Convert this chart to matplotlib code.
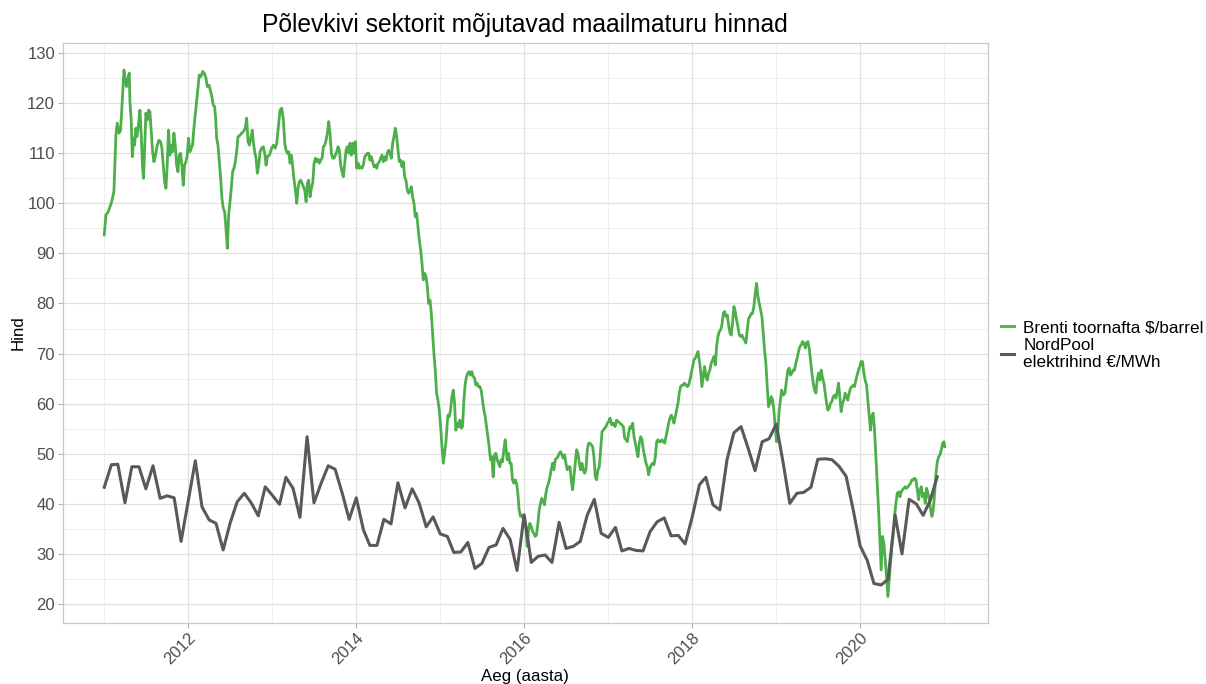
import datetime as dt
import numpy as np
import pandas as pd
import matplotlib
matplotlib.use("Agg")
import matplotlib.pyplot as plt
import matplotlib.dates as mdates
from matplotlib.ticker import FixedLocator

plt.rcParams['font.family'] = ['Liberation Sans', 'DejaVu Sans']

# ---------------- data ----------------
title = "Põlevkivi sektorit mõjutavad maailmaturu hinnad"
x_label = "Aeg (aasta)"
y_label = "Hind"
series_names = ["Brenti toornafta $/barrel", "NordPool\nelektrihind €/MWh"]

# Brent crude oil price, sampled time (decimal year) and value
brent_year = [
    2011.000, 2011.020, 2011.048, 2011.088, 2011.115, 2011.139, 2011.155, 2011.175, 2011.195, 2011.235,
    2011.251, 2011.266, 2011.282, 2011.298, 2011.306, 2011.322, 2011.334, 2011.350, 2011.361, 2011.377,
    2011.389, 2011.405, 2011.425, 2011.441, 2011.456, 2011.468, 2011.480, 2011.496, 2011.512, 2011.528,
    2011.544, 2011.560, 2011.576, 2011.592, 2011.611, 2011.631, 2011.651, 2011.671, 2011.687, 2011.703,
    2011.719, 2011.735, 2011.750, 2011.766, 2011.782, 2011.798, 2011.814, 2011.830, 2011.846, 2011.862,
    2011.878, 2011.893, 2011.909, 2011.925, 2011.941, 2011.957, 2011.973, 2011.989, 2012.004, 2012.020,
    2012.036, 2012.052, 2012.068, 2012.084, 2012.100, 2012.116, 2012.131, 2012.151, 2012.171, 2012.191,
    2012.211, 2012.227, 2012.247, 2012.262, 2012.278, 2012.298, 2012.314, 2012.326, 2012.338, 2012.354,
    2012.370, 2012.386, 2012.401, 2012.417, 2012.433, 2012.449, 2012.465, 2012.481, 2012.497, 2012.512,
    2012.528, 2012.544, 2012.560, 2012.576, 2012.592, 2012.616, 2012.635, 2012.655, 2012.679, 2012.695,
    2012.711, 2012.727, 2012.743, 2012.762, 2012.774, 2012.790, 2012.806, 2012.822, 2012.838, 2012.854,
    2012.873, 2012.893, 2012.913, 2012.925, 2012.941, 2012.965, 2012.992, 2013.012,
    2013.033, 2013.052, 2013.072, 2013.092, 2013.112, 2013.132, 2013.148, 2013.163, 2013.179, 2013.195,
    2013.211, 2013.227, 2013.243, 2013.259, 2013.275, 2013.290, 2013.306, 2013.322, 2013.338, 2013.354,
    2013.370, 2013.386, 2013.402, 2013.417, 2013.433, 2013.449, 2013.465, 2013.481, 2013.497, 2013.513,
    2013.529, 2013.544, 2013.560, 2013.576, 2013.592, 2013.608, 2013.624, 2013.640, 2013.656, 2013.671,
    2013.687, 2013.703, 2013.719, 2013.735, 2013.751, 2013.767, 2013.783, 2013.798, 2013.814, 2013.830,
    2013.846, 2013.862, 2013.878, 2013.894, 2013.910, 2013.925, 2013.941, 2013.957, 2013.973, 2013.989,
    2014.005, 2014.021, 2014.037, 2014.052, 2014.068, 2014.084, 2014.100, 2014.116, 2014.132, 2014.148,
    2014.163, 2014.179, 2014.195, 2014.211, 2014.227, 2014.243, 2014.259, 2014.275, 2014.290, 2014.306,
    2014.322, 2014.338, 2014.354, 2014.370, 2014.386, 2014.402, 2014.417, 2014.433, 2014.449, 2014.465,
    2014.481, 2014.497, 2014.513, 2014.529, 2014.544, 2014.560, 2014.576, 2014.592, 2014.608, 2014.624,
    2014.640, 2014.656, 2014.671, 2014.687, 2014.703, 2014.719, 2014.735, 2014.751, 2014.767, 2014.783,
    2014.798, 2014.814, 2014.830, 2014.846, 2014.862, 2014.878, 2014.894, 2014.910, 2014.925, 2014.941,
    2014.957, 2014.973, 2014.989, 2015.005, 2015.021, 2015.037,
    2015.067, 2015.091, 2015.107, 2015.123, 2015.139, 2015.155, 2015.171, 2015.186, 2015.202, 2015.218,
    2015.234, 2015.250, 2015.266, 2015.282, 2015.298, 2015.313, 2015.329, 2015.345, 2015.361, 2015.377,
    2015.393, 2015.409, 2015.425, 2015.440, 2015.456, 2015.472, 2015.488, 2015.504, 2015.520, 2015.536,
    2015.552, 2015.567, 2015.583, 2015.599, 2015.615, 2015.631, 2015.647, 2015.663, 2015.679, 2015.694,
    2015.710, 2015.726, 2015.742, 2015.758, 2015.774, 2015.790, 2015.798, 2015.813, 2015.829, 2015.845,
    2015.861, 2015.877, 2015.893, 2015.909, 2015.925, 2015.940, 2015.956, 2015.972, 2015.988, 2016.004,
    2016.020, 2016.036, 2016.052, 2016.067, 2016.083, 2016.099, 2016.115, 2016.131, 2016.147, 2016.163,
    2016.179, 2016.194, 2016.210, 2016.226, 2016.242, 2016.258, 2016.274, 2016.290, 2016.306, 2016.321,
    2016.337, 2016.353, 2016.369, 2016.385, 2016.401, 2016.417, 2016.433, 2016.448, 2016.464, 2016.480,
    2016.496, 2016.512, 2016.528, 2016.544, 2016.560, 2016.575, 2016.591, 2016.607, 2016.623, 2016.639,
    2016.655, 2016.671, 2016.687, 2016.702, 2016.718, 2016.734, 2016.750, 2016.766, 2016.782, 2016.798,
    2016.813, 2016.829, 2016.845, 2016.861, 2016.877, 2016.893, 2016.909, 2016.925, 2016.940, 2016.956,
    2016.972, 2016.988, 2017.004, 2017.020,
    2017.040, 2017.060, 2017.080, 2017.099, 2017.119, 2017.139, 2017.159, 2017.179, 2017.195, 2017.210,
    2017.226, 2017.242, 2017.258, 2017.274, 2017.290, 2017.306, 2017.322, 2017.337, 2017.353, 2017.369,
    2017.385, 2017.401, 2017.417, 2017.433, 2017.449, 2017.464, 2017.480, 2017.496, 2017.512, 2017.528,
    2017.544, 2017.560, 2017.576, 2017.591, 2017.607, 2017.623, 2017.639, 2017.655, 2017.671, 2017.687,
    2017.703, 2017.718, 2017.734, 2017.750, 2017.766, 2017.782, 2017.798, 2017.814, 2017.830, 2017.845,
    2017.861, 2017.877, 2017.893, 2017.909, 2017.925, 2017.941, 2017.957, 2017.972, 2017.988, 2018.004,
    2018.020, 2018.036, 2018.052, 2018.068, 2018.083, 2018.099, 2018.115, 2018.131, 2018.147, 2018.163,
    2018.179, 2018.195, 2018.210, 2018.226, 2018.242, 2018.258, 2018.274, 2018.290, 2018.306, 2018.322,
    2018.337, 2018.353, 2018.369, 2018.385, 2018.401, 2018.417, 2018.433, 2018.449, 2018.464, 2018.480,
    2018.496, 2018.512, 2018.528, 2018.544, 2018.560, 2018.576, 2018.591, 2018.607, 2018.623, 2018.639,
    2018.655, 2018.671, 2018.687, 2018.703, 2018.718, 2018.734, 2018.750, 2018.766, 2018.782, 2018.798,
    2018.814, 2018.830, 2018.845, 2018.861, 2018.877, 2018.893, 2018.909, 2018.925, 2018.941, 2018.957,
    2018.972, 2018.988, 2019.004, 2019.020, 2019.036,
    2019.064, 2019.084, 2019.104, 2019.123, 2019.139, 2019.155, 2019.171, 2019.187, 2019.203, 2019.219,
    2019.234, 2019.250, 2019.266, 2019.282, 2019.298, 2019.314, 2019.330, 2019.346, 2019.361, 2019.377,
    2019.393, 2019.409, 2019.425, 2019.441, 2019.457, 2019.473, 2019.488, 2019.504, 2019.520, 2019.536,
    2019.552, 2019.568, 2019.584, 2019.600, 2019.615, 2019.631, 2019.647, 2019.663, 2019.679, 2019.695,
    2019.711, 2019.727, 2019.742, 2019.758, 2019.774, 2019.790, 2019.806, 2019.822, 2019.838, 2019.853,
    2019.869, 2019.885, 2019.901, 2019.917, 2019.933, 2019.949, 2019.965, 2019.980, 2019.996, 2020.012,
    2020.028, 2020.044, 2020.060, 2020.076, 2020.092, 2020.107, 2020.123, 2020.139, 2020.155, 2020.171,
    2020.187, 2020.203, 2020.219, 2020.234, 2020.250, 2020.266, 2020.282, 2020.298, 2020.314, 2020.330,
    2020.346, 2020.361, 2020.377, 2020.393, 2020.409, 2020.425, 2020.441, 2020.457, 2020.473, 2020.488,
    2020.504, 2020.520, 2020.536, 2020.552, 2020.568, 2020.584, 2020.600, 2020.615, 2020.631, 2020.647,
    2020.663, 2020.679, 2020.695, 2020.711, 2020.727, 2020.742, 2020.758, 2020.774, 2020.790, 2020.806,
    2020.822, 2020.838, 2020.853, 2020.869, 2020.885, 2020.901, 2020.917, 2020.933, 2020.949, 2020.965,
    2020.980, 2020.996, 2021.005,
]
brent_price = [
    93.7, 97.7, 98.3, 100.3, 102.3, 113.6, 116.0, 114.0, 114.6, 126.6,
    124.3, 123.3, 125.0, 126.0, 120.3, 116.3, 109.3, 113.0, 111.6, 115.0,
    113.3, 115.3, 118.6, 113.6, 107.3, 105.0, 110.3, 118.0, 116.6, 118.6,
    118.3, 114.3, 110.3, 108.3, 109.6, 111.6, 112.6, 112.3, 111.0, 107.6,
    104.3, 103.0, 107.6, 114.6, 109.6, 111.6, 110.3, 114.0, 111.6, 107.6,
    106.3, 109.6, 110.0, 107.6, 103.6, 107.6, 108.3, 109.6, 113.0, 110.3,
    111.0, 111.6, 115.0, 117.6, 120.3, 123.0, 125.6, 125.3, 126.3, 126.0,
    125.0, 123.3, 123.6, 122.6, 121.6, 119.6, 119.3, 117.0, 113.0, 111.6,
    108.3, 105.0, 101.0, 99.0, 98.3, 95.0, 91.0, 97.7, 100.3, 103.0,
    106.3, 107.0, 108.3, 110.3, 113.3, 113.6, 114.0, 114.3, 115.0, 117.0,
    112.3, 111.6, 113.0, 114.6, 112.3, 110.3, 109.0, 106.0, 107.6, 110.3,
    111.0, 111.3, 109.6, 107.6, 109.3, 109.6, 111.0, 111.6,
    111.0, 112.0, 115.3, 118.6, 119.0, 116.6, 112.0, 110.6, 110.0, 110.3,
    108.0, 109.6, 107.3, 104.6, 102.6, 100.0, 103.0, 104.3, 104.6, 104.0,
    103.3, 102.6, 100.3, 104.0, 104.6, 101.3, 103.0, 104.0, 108.0, 109.0,
    108.3, 108.8, 108.0, 108.6, 109.0, 111.3, 111.6, 112.6, 114.0, 116.3,
    114.0, 110.0, 109.0, 109.0, 109.6, 110.3, 111.3, 110.6, 107.6, 106.3,
    105.3, 108.0, 110.6, 111.3, 110.0, 112.0, 109.6, 112.0, 110.0, 112.3,
    107.0, 108.0, 107.0, 107.3, 107.0, 107.6, 109.3, 109.6, 110.0, 110.0,
    108.6, 109.3, 108.3, 107.3, 107.6, 107.0, 108.0, 108.3, 109.0, 109.6,
    108.3, 109.3, 108.6, 110.0, 110.6, 110.0, 109.0, 112.0, 113.3, 115.0,
    113.3, 110.6, 108.3, 108.6, 107.3, 108.3, 105.3, 104.6, 102.6, 102.0,
    102.6, 103.3, 101.3, 100.0, 97.3, 98.0, 95.3, 92.6, 90.7, 88.0,
    84.7, 86.0, 85.4, 83.4, 80.0, 80.7, 78.0, 74.0, 70.0, 66.7,
    62.1, 60.7, 58.7, 55.4, 51.4, 48.1,
    52.1, 57.7, 57.4, 58.7, 61.4, 62.7, 60.1, 54.7, 56.1, 55.4,
    56.7, 55.1, 55.4, 60.7, 64.0, 65.4, 66.1, 66.4, 65.7, 66.4,
    65.4, 65.1, 63.7, 64.1, 63.4, 63.4, 62.7, 60.7, 58.7, 57.4,
    55.4, 53.4, 51.4, 48.8, 49.4, 45.4, 49.8, 50.1, 48.8, 48.1,
    47.4, 48.8, 48.4, 50.8, 52.8, 50.1, 48.8, 50.1, 48.1, 48.1,
    44.8, 44.1, 44.8, 44.1, 42.1, 38.8, 37.5, 37.8, 37.1, 36.8,
    35.5, 31.5, 34.8, 36.1, 35.5, 34.5, 34.1, 33.5, 33.8, 36.1,
    38.8, 40.1, 41.1, 40.4, 39.8, 42.1, 43.4, 44.1, 45.4, 46.8,
    48.1, 46.8, 48.8, 49.1, 49.4, 50.1, 50.4, 49.8, 49.1, 49.8,
    48.1, 46.8, 47.4, 47.4, 44.8, 42.8, 45.4, 48.1, 50.8, 50.1,
    48.1, 46.8, 48.1, 46.8, 46.1, 46.8, 50.8, 52.1, 52.1, 51.8,
    51.4, 49.4, 45.4, 44.8, 46.8, 47.4, 50.8, 54.4, 54.7, 55.1,
    55.4, 56.1, 56.4, 57.1,
    55.8, 56.1, 55.4, 56.7, 56.4, 56.1, 55.8, 55.4, 53.1, 52.8,
    52.4, 54.1, 55.4, 55.1, 56.1, 53.4, 52.1, 50.8, 49.4, 52.1,
    53.4, 52.8, 50.8, 49.4, 48.1, 47.4, 45.8, 47.1, 47.8, 48.1,
    47.8, 49.4, 52.4, 52.8, 52.4, 52.4, 52.8, 52.4, 52.1, 53.4,
    54.7, 56.1, 57.1, 57.7, 57.1, 56.1, 57.4, 58.8, 60.1, 62.1,
    63.4, 63.7, 63.7, 64.1, 63.7, 63.4, 63.7, 64.7, 66.1, 67.4,
    68.7, 69.1, 69.7, 70.4, 68.7, 66.7, 63.4, 65.4, 67.4, 65.4,
    64.7, 66.1, 66.7, 68.1, 68.7, 69.4, 67.7, 71.4, 73.4, 74.4,
    74.7, 75.7, 78.0, 78.4, 77.4, 77.7, 75.7, 74.1, 73.7, 76.1,
    79.4, 78.4, 76.7, 75.4, 73.7, 73.4, 73.7, 73.1, 72.7, 72.1,
    74.7, 77.0, 77.4, 78.0, 78.0, 79.4, 82.0, 84.0, 81.4, 80.0,
    78.7, 77.4, 74.1, 70.7, 68.1, 63.4, 59.4, 60.1, 61.4, 60.7,
    58.7, 55.4, 52.4, 54.7, 58.7,
    62.7, 61.7, 62.1, 64.7, 66.7, 67.1, 65.7, 66.1, 66.7, 66.7,
    68.1, 69.1, 70.4, 71.4, 71.7, 72.4, 72.1, 71.1, 72.1, 72.4,
    71.1, 68.7, 66.1, 64.1, 62.7, 62.1, 64.7, 66.1, 64.7, 66.7,
    65.1, 64.1, 62.1, 60.1, 58.7, 59.1, 60.1, 60.4, 61.4, 61.7,
    61.1, 62.4, 64.1, 61.4, 58.4, 60.1, 60.7, 62.1, 61.4, 60.7,
    62.1, 63.1, 63.4, 63.7, 63.4, 64.7, 65.7, 66.7, 67.4, 68.4,
    68.4, 66.1, 64.7, 63.7, 60.7, 58.1, 54.7, 57.4, 58.1, 54.7,
    49.4, 44.1, 38.8, 32.8, 26.8, 33.5, 32.1, 28.8, 25.5, 21.5,
    24.8, 28.1, 31.5, 34.1, 37.5, 40.1, 42.1, 42.4, 41.4, 42.4,
    42.8, 43.1, 43.4, 43.1, 43.4, 43.8, 44.1, 44.8, 44.8, 45.1,
    44.8, 42.8, 40.8, 42.8, 43.4, 41.4, 42.1, 40.1, 43.1, 42.1,
    40.8, 38.8, 37.5, 38.8, 42.1, 46.1, 48.4, 49.4, 49.8, 50.8,
    52.1, 52.4, 51.4,
]

# NordPool monthly electricity price, Jan 2011 - Dec 2020
nordpool_start = "2011-01-01"
nordpool_price = [
    43.3, 47.8, 47.9, 40.2, 47.4, 47.4, 43.0, 47.6, 41.1, 41.6, 41.2, 32.5,
    40.5, 48.6, 39.4, 36.8, 36.1, 30.8, 36.1, 40.4, 42.1, 40.2, 37.6, 43.4,
    41.7, 39.9, 45.3, 43.1, 37.3, 53.4, 40.2, 44.1, 47.6, 46.9, 42.1, 36.9,
    41.2, 34.8, 31.7, 31.7, 36.9, 36.0, 44.2, 39.2, 43.0, 40.2, 35.4, 37.4,
    34.0, 33.5, 30.3, 30.4, 32.3, 27.1, 28.1, 31.3, 31.8, 35.1, 32.9, 26.7,
    37.8, 28.3, 29.5, 29.8, 28.3, 36.3, 31.1, 31.5, 32.5, 37.7, 40.9, 34.1,
    33.3, 35.3, 30.6, 31.1, 30.7, 30.6, 34.4, 36.4, 37.2, 33.6, 33.7, 32.0,
    37.4, 43.8, 45.3, 39.8, 38.8, 48.8, 54.2, 55.4, 51.1, 46.6, 52.4, 53.0,
    55.9, 48.0, 40.1, 42.1, 42.3, 43.3, 48.9, 49.0, 48.8, 47.5, 45.5, 39.0,
    31.6, 28.7, 24.1, 23.8, 24.9, 37.8, 30.0, 40.9, 40.0, 37.7, 40.7, 45.4,
]

y_major = [20, 30, 40, 50, 60, 70, 80, 90, 100, 110, 120, 130]
y_minor = [25, 35, 45, 55, 65, 75, 85, 95, 105, 115, 125]
x_major_years = [2012, 2014, 2016, 2018, 2020]
x_minor_years = [2011, 2013, 2015, 2017, 2019, 2021]

# ---------------- helpers ----------------
def dec_to_date(y):
    yr = int(np.floor(y))
    start = dt.datetime(yr, 1, 1)
    end = dt.datetime(yr + 1, 1, 1)
    return start + (end - start) * (y - yr)

brent_dates = [dec_to_date(v) for v in brent_year]
np_dates = pd.date_range(nordpool_start, periods=len(nordpool_price), freq="MS")

# ---------------- figure ----------------
W, H = 1206, 684
fig = plt.figure(figsize=(W / 100, H / 100), dpi=100)
L, R, T, B = 62.7, 987.7, 43.3, 622.7
ax = fig.add_axes([L / W, 1 - B / H, (R - L) / W, (B - T) / H])

green = "#4DAF4A"
grey = "#595959"
l1, = ax.plot(brent_dates, brent_price, color=green, lw=2.0, solid_joinstyle="round", zorder=3)
l2, = ax.plot(np_dates, nordpool_price, color=grey, lw=2.2, solid_joinstyle="round", zorder=3)

ax.set_ylim(16.27, 131.94)
ax.set_xlim(dec_to_date(2010.505), dec_to_date(2021.517))

ax.yaxis.set_major_locator(FixedLocator(y_major))
ax.yaxis.set_minor_locator(FixedLocator(y_minor))
ax.xaxis.set_major_locator(FixedLocator([mdates.date2num(dt.datetime(y, 1, 1)) for y in x_major_years]))
ax.xaxis.set_minor_locator(FixedLocator([mdates.date2num(dt.datetime(y, 1, 1)) for y in x_minor_years]))
ax.xaxis.set_major_formatter(mdates.DateFormatter("%Y"))

ax.grid(which="major", color="#E0E0E0", lw=0.9, zorder=0)
ax.grid(which="minor", color="#EDEDED", lw=0.6, zorder=0)
ax.set_axisbelow(True)

for s in ax.spines.values():
    s.set_color("#C8C8C8")
    s.set_linewidth(0.9)

ax.tick_params(which="major", length=3.5, width=0.8, color="#B3B3B3",
               labelsize=12, labelcolor="#4D4D4D", pad=2)
ax.tick_params(which="minor", length=0)
for lab in ax.get_xticklabels():
    lab.set_rotation(45)
    lab.set_ha("right")
    lab.set_va("top")
    lab.set_rotation_mode("anchor")

fig.text((L + R) / 2 / W, 1 - 25 / H, title, ha="center", va="center", fontsize=17.7, color="black")
fig.text((L + R) / 2 / W, 1 - 677 / H, x_label, ha="center", va="center", fontsize=12.2, color="black")
fig.text(18 / W, 1 - 333 / H, y_label, ha="center", va="center", rotation=90, fontsize=12.2, color="black")

fig.legend([l1, l2], series_names, loc="center left", bbox_to_anchor=(1001 / W, 1 - 345 / H),
           frameon=False, fontsize=12.3, handlelength=0.75, handletextpad=0.55,
           labelspacing=0.15, borderpad=0, borderaxespad=0)

fig.savefig("out.png", dpi=100)
